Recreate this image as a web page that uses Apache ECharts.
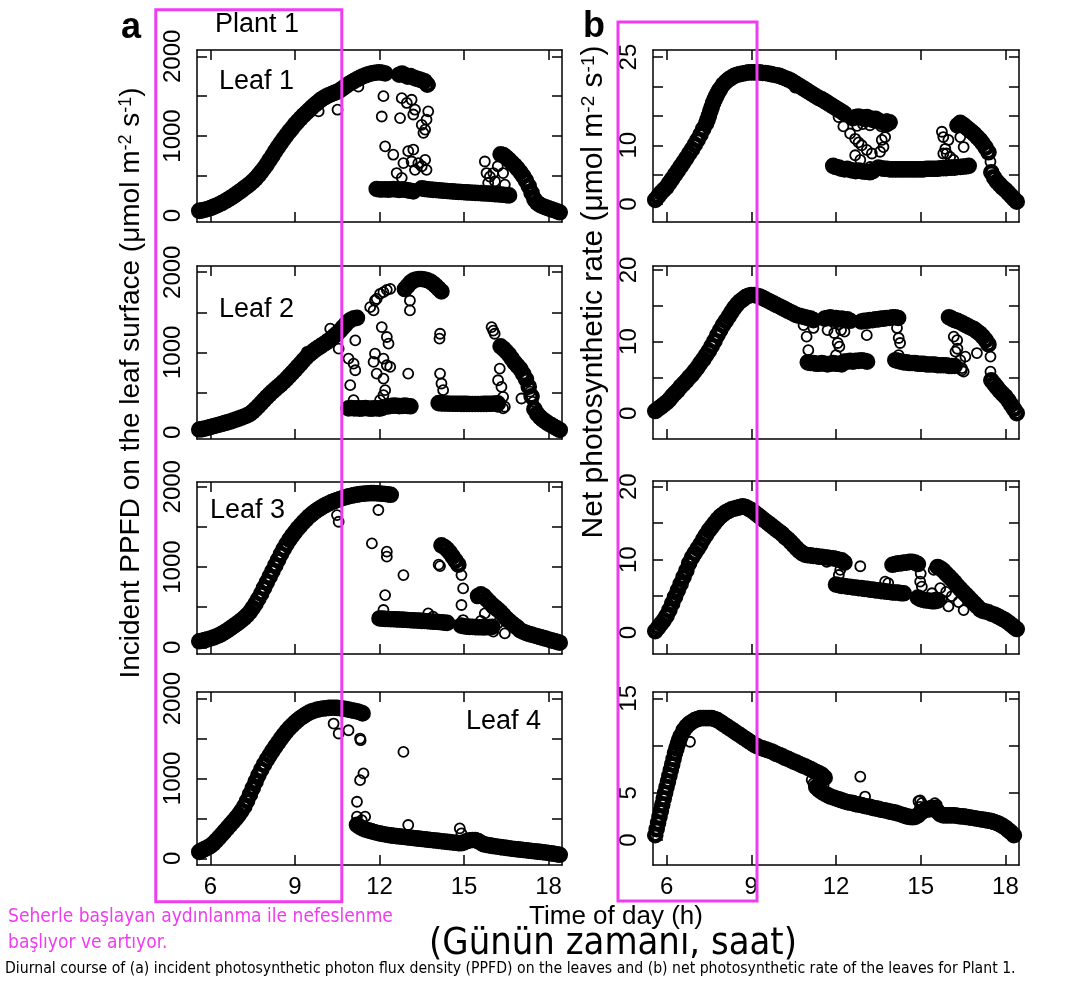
<!DOCTYPE html>
<html><head><meta charset="utf-8">
<script src="https://cdn.jsdelivr.net/npm/echarts@6/dist/echarts.min.js"></script>
<style>html,body{margin:0;padding:0;background:#fff}#c{width:1080px;height:994px}</style>
</head><body><div id="c"></div>
<script>
// ---------------- DATA (hours of day, sampled every STEP hours from each segment start) ----------------
const STEP = 0.1;
const xTicks = [6, 9, 12, 15, 18];
const ppfdTicks = [0, 500, 1000, 1500, 2000];
const ppfdLabels = [0, 1000, 2000];
const b1Ticks = [0, 5, 10, 15, 20, 25];
const b1Labels = [0, 10, 25];
const b23Ticks = [0, 5, 10, 15, 20];
const b23Labels = [0, 10, 20];
const b4Ticks = [0, 5, 10, 15];
const b4Labels = [0, 5, 15];

// Leaf 1 PPFD
const a1_rise = [60,66,74,84,95,110,125,140,158,178,198,220,243,267,292,318,345,372,400,430,465,505,548,595,645,700,755,810,862,915,965,1012,1058,1100,1145,1185,1222,1258,1292,1325,1360,1392,1420,1450,1475,1495,1512,1528,1542,1556,1575,1600,1625,1650,1672,1692,1712,1730,1748,1762,1775,1785,1792,1797,1800,1795,1785];
const a1_low1 = [335,330,328,332,326,330,334,328,322,330,325,318,312,305];
const a1_high = [1770,1785,1765,1745,1752,1735,1722,1712,1700,1688,1645];
const a1_low2 = [342,336,331,328,324,322,318,315,312,310,306,304,300,298,296,294,292,290,288,286,284,282,280,278,276,273,270,268,265,262,258,254];
const a1_fall = [770,760,732,700,665,630,590,545,495,440,370,285,205,160,135,118,105,92,80,68,55,42];
const a1_pts = [[10.51,1330],[9.84,1310],[11.25,1620],[12.14,1500],[12.08,1245],[12.2,870],[12.49,765],[12.73,1225],[12.79,1475],[12.97,1415],[13.14,1455],[13.2,1270],[13.26,1330],[13.5,1140],[13.56,1040],[13.62,1080],[13.67,1205],[13.73,1310],[13.79,1645],[13.02,810],[13.2,830],[13.14,680],[13.38,660],[13.62,700],[13.67,575],[13.5,620],[12.61,535],[12.79,475],[12.85,660],[13.26,575],[13.14,325],[13.2,285],[15.74,680],[15.86,410],[15.8,535],[15.92,490],[16.04,535],[16.1,430],[16.39,535],[16.45,390],[16.2,620]];

// Leaf 1 net photosynthesis
const b1_rise = [0.7,1.3,1.9,2.4,2.9,3.6,4.3,5.0,5.7,6.4,7.1,7.8,8.6,9.3,10.1,10.9,11.8,12.8,13.7,15.0,16.5,17.8,18.8,19.6,20.3,20.8,21.2,21.5,21.8,22.0,22.1,22.2,22.3,22.4,22.4,22.4,22.4,22.4,22.3,22.3,22.2,22.1,22.0,21.9,21.8,21.6,21.4,21.2,21.0,20.7,20.4,20.1,19.8,19.5,19.2,18.9,18.6,18.3,18.0,17.8,17.5,17.2,16.9,16.6,16.3,16.0,15.7,15.4];
const b1_steep = [14.3,15.8,17.2,18.3,19.2];          // 7.45 .. 7.85
const b1_high = [14.6,14.8,14.9,14.7,14.5,14.8,14.6,14.3,14.5,14.2,14.0,13.8,13.6,13.9];
const b1_low1 = [6.5,6.3,6.2,6.0,5.9,6.0,5.8,5.7,5.6,5.7,5.6,5.5,5.5,5.4,5.6];
const b1_low2 = [6.2,6.1,6.0,6.0,5.9,5.9,5.9,5.9,5.9,5.9,5.9,5.9,5.9,5.9,5.9,5.9,5.9,6.0,6.0,6.0,6.0,6.0,6.1,6.1,6.1,6.2,6.2,6.2,6.3,6.3,6.4,6.4,6.5];
const b1_fall = [13.4,13.8,13.5,13.1,12.7,12.3,11.9,11.4,10.9,10.3,9.6,8.8];
const b1_tail = [5.4,4.5,3.8,3.3,2.8,2.4,1.9,1.4,0.9,0.4];
const b1_pts = [[10.55,19.8],[12.09,14.8],[12.26,13.2],[12.5,12.0],[12.68,11.1],[12.8,10.5],[12.91,10.0],[13.09,9.2],[13.27,8.6],[13.56,8.9],[13.62,10.9],[13.68,9.7],[13.74,11.4],[12.68,8.3],[12.86,7.5],[13.21,6.3],[12.75,13.3],[12.95,13.6],[13.2,13.4],[13.4,13.8],[13.6,13.2],[13.8,14.5],[13.0,15.1],[15.75,12.3],[15.8,11.4],[15.87,9.4],[15.92,8.6],[16.04,8.0],[16.16,7.5],[16.4,11.4],[16.52,9.7],[15.8,8.6],[15.98,10.9],[17.47,7.2],[17.52,4.9]];

// Leaf 2 PPFD
const a2_rise = [35,40,48,57,67,77,86,95,105,115,125,135,148,160,172,185,198,212,232,260,292,328,365,402,440,475,508,540,570,600,633,668,705,742,780,820,860,900,938,970,1000,1028,1052,1075,1098,1122,1148,1175,1205,1235,1270,1310,1350,1385,1410,1425,1430];
const a2_low1 = [300,305,298,302,296,300,304,298,295,300,302,297,305];
const a2_low1b = [325,330,335,332,328,330,334,330,326];
const a2_high = [1790,1830,1870,1895,1910,1915,1915,1910,1900,1885,1860,1830,1795,1760];
const a2_low2 = [365,362,360,360,358,358,357,357,356,356,356,355,355,355,355,355,356,356,357,358,360,362];
const a2_fall = [1075,1045,1010,970,920,870,830,790,730,665,570,450,290,230,190,160,135,110,90,70,50,30];
const a2_pts = [[10.25,1295],[10.55,1045],[9.42,1004],[11.14,1149],[10.9,921],[11.08,859],[11.14,776],[10.96,589],[11.08,402],[12.08,1315],[12.26,1191],[12.32,1108],[11.84,983],[11.79,880],[11.9,734],[12.14,921],[12.26,838],[12.38,817],[12.14,672],[12.2,527],[12.14,465],[13.02,734],[12.02,402],[11.67,1564],[11.79,1523],[11.84,1647],[11.9,1668],[12.02,1730],[12.14,1751],[12.26,1780],[12.38,1792],[12.85,1772],[13.08,1647],[13.08,1523],[14.15,1232],[14.13,1170],[14.15,734],[14.2,610],[14.26,527],[14.2,402],[15.98,1315],[16.09,1232],[16.04,1270],[16.27,797],[16.21,651],[16.33,568],[16.39,444],[16.45,320],[17.04,423],[16.2,320],[16.39,300],[17.45,380],[17.35,510]];

// Leaf 2 net photosynthesis
const b2_rise = [0.3,0.6,0.9,1.2,1.5,1.9,2.4,2.8,3.2,3.7,4.1,4.5,5.0,5.4,5.9,6.4,7.0,7.5,8.1,8.7,9.4,10.1,10.9,11.6,12.3,12.9,13.5,14.1,14.7,15.2,15.6,15.9,16.2,16.4,16.5,16.5,16.4,16.3,16.1,15.9,15.7,15.5,15.3,15.1,14.9,14.7,14.5,14.3,14.1,13.9,13.7,13.6,13.5,13.4,13.3,13.2,13.0];
const b2_low1 = [7.1,7.0,7.0,6.9,6.9,7.0,6.9,6.8,6.9,7.0,6.9,6.9,6.8];
const b2_low1b = [7.2,7.2,7.3,7.2,7.3,7.3,7.4,7.3,7.2];
const b2_upA = [13.2,13.3,13.4,13.2,13.3,13.1,13.2,13.0,13.1,12.9];
const b2_upB = [12.8,12.9,12.9,13.0,13.0,13.1,13.1,13.2,13.2,13.3,13.3,13.4,13.4,13.3];
const b2_low2 = [7.4,7.3,7.2,7.1,7.1,7.0,7.0,7.0,6.9,6.9,6.9,6.8,6.8,6.8,6.8,6.7,6.7,6.7,6.7,6.6,6.6,6.6];
const b2_fall = [13.4,13.2,13.0,12.9,12.7,12.5,12.3,12.1,11.9,11.7,11.4,11.1,10.7,10.2,9.6];
const b2_tail = [4.6,4.1,3.6,3.1,2.7,2.3,1.8,1.2,0.6,0.0];
const b2_pts = [[10.85,12.3],[10.96,10.7],[11.02,8.8],[11.2,11.9],[11.7,11.6],[11.94,11.2],[12.06,9.8],[12.12,9.3],[12.0,8.1],[12.18,11.6],[12.3,11.4],[12.1,12.4],[12.86,12.8],[13.09,10.9],[14.16,11.9],[14.22,10.5],[14.27,9.8],[14.22,8.1],[15.99,13.5],[16.11,13.0],[16.17,10.7],[16.29,10.2],[16.23,8.6],[16.4,7.4],[16.46,6.3],[16.58,7.9],[16.52,5.8],[16.99,8.4],[17.47,7.9],[17.47,5.8],[16.3,9.0],[16.45,6.0]];

// Leaf 3 PPFD
const a3_rise = [75,82,90,100,110,122,135,150,168,188,210,235,260,285,310,338,368,400,440,490,545,605,670,740,810,880,950,1020,1090,1160,1225,1285,1340,1390,1435,1480,1520,1560,1595,1630,1660,1688,1712,1735,1755,1775,1792,1808,1822,1835,1848,1860,1870,1880,1888,1895,1902,1908,1912,1915,1918,1920,1920,1918,1915,1912,1910,1905,1900];
const a3_low1 = [360,358,355,352,350,350,348,346,345,343,340,338,336,335,333,330,328,325,322,320,318,315,312,308,305];
const a3_up = [1270,1250,1220,1180,1130,1080,1030];
const a3_low2 = [270,262,258,255,255,252,250,250,248,250,252,255];
const a3_mid = [640,660,640,600,565,530,500,470,440,400,360,330,300,270,245,210,195,180,168,158,148,138,128,118,108,98,88,78,68,58];
const a3_pts = [[10.49,1647],[10.55,1564],[11.96,1710],[11.73,1294],[12.26,1191],[12.26,1129],[12.85,900],[12.2,651],[12.14,465],[13.73,423],[13.9,382],[14.15,1012],[14.1,1030],[14.91,900],[14.97,734],[14.91,527],[14.97,340],[15.45,610],[15.74,423],[16.04,195],[16.45,174],[15.98,490],[16.2,300],[15.3,280],[15.6,330]];

// Leaf 3 net photosynthesis
const b3_rise = [0.2,0.7,1.2,1.7,2.3,3.1,4.0,4.9,5.8,6.7,7.6,8.5,9.5,10.3,10.9,11.5,12.1,12.8,13.4,14.0,14.5,15.0,15.5,15.9,16.2,16.5,16.7,16.9,17.0,17.1,17.2,17.3,17.2,17.0,16.8,16.5,16.2,15.9,15.6,15.3,15.0,14.7,14.4,14.1,13.8,13.5,13.1,12.8,12.4,12.0,11.6,11.2,10.9,10.7,10.6,10.6,10.5,10.5,10.4,10.4,10.3,10.3,10.2,10.2,10.1,10.0,9.9,9.6];
const b3_low1 = [6.6,6.5,6.4,6.4,6.3,6.3,6.2,6.2,6.1,6.1,6.0,6.0,5.9,5.9,5.8,5.8,5.7,5.7,5.6,5.6,5.5,5.5,5.5,5.4,5.4];
const b3_up = [9.3,9.4,9.5,9.5,9.6,9.6,9.7,9.7,9.6,9.4];
const b3_low2 = [4.8,4.6,4.5,4.4,4.4,4.3,4.3,4.4];
const b3_mid = [9.0,8.8,8.5,8.1,7.7,7.3,6.9,6.4,6.0,5.6,5.2,4.8,4.4,4.0,3.6,3.2,3.0,2.9,2.8,2.6,2.5,2.3,2.1,1.9,1.7,1.4,1.1,0.8,0.5];
const b3_pts = [[11.67,9.7],[12.86,9.1],[12.15,8.6],[12.1,7.9],[13.74,7.0],[13.85,6.8],[15.04,6.3],[15.0,8.1],[15.46,8.6],[15.69,6.1],[15.75,4.5],[15.98,3.6],[16.34,4.2],[16.52,3.1],[15.4,5.4],[15.5,4.8],[16.1,5.0],[15.9,5.6],[14.98,7.0]];

// Leaf 4 PPFD
const a4_rise = [80,100,118,135,155,185,220,258,298,338,378,418,458,500,545,595,650,720,800,880,960,1040,1110,1175,1235,1290,1345,1400,1450,1500,1545,1590,1630,1665,1700,1730,1758,1782,1805,1825,1840,1852,1862,1870,1876,1880,1884,1886,1886,1884,1880,1875,1870,1862,1855,1848,1840,1830,1815];
const a4_low = [420,395,375,360,350,340,330,320,312,305,298,292,287,282,278,274,270,266,262,258,254,250,246,242,238,234,230,226,222,218,214,210,206,202,198,194,190,188,200,215,225,230,228,215,195,175,168,162,156,150,145,140,135,130,125,120,116,112,108,104,100,96,92,88,84,80,76,72,67,62,56,50,44];
const a4_pts = [[6.77,417],[10.37,1688],[10.55,1563],[10.9,1604],[11.31,1500],[11.33,1479],[11.43,1063],[11.31,979],[11.2,708],[11.2,521],[11.49,521],[11.37,479],[12.85,1333],[13.02,417],[14.85,375],[14.91,312]];

// Leaf 4 net photosynthesis
const b4_riseFast = [0.5,1.15,1.8,2.45,3.1,3.75,4.4,5.0,5.6,6.2,6.8,7.4,8.0,8.6,9.2,9.7,10.2,10.6];   // 5.60 .. 6.45 every 0.05 h
const b4_rise = [11.0,11.6,12.0,12.3,12.5,12.7,12.8,12.9,12.9,12.9,12.9,12.9,12.8,12.7,12.5,12.3,12.1,11.9,11.7,11.5,11.3,11.1,10.9,10.7,10.5,10.3,10.1,9.95,9.8,9.7,9.6,9.5,9.4,9.25,9.1,9.0,8.85,8.7,8.6,8.45,8.3,8.2,8.05,7.9,7.8,7.65,7.5,7.35,7.2,7.05,6.9,6.6];
const b4_low = [5.6,5.3,5.1,4.9,4.75,4.6,4.5,4.4,4.3,4.2,4.1,4.0,3.95,3.9,3.8,3.75,3.7,3.6,3.55,3.5,3.4,3.35,3.3,3.2,3.15,3.1,3.0,2.95,2.9,2.8,2.7,2.6,2.5,2.45,2.4,2.45,2.6,2.9,3.1,3.2,3.3,3.4,3.3,3.0,2.7,2.6,2.6,2.6,2.6,2.6,2.55,2.5,2.5,2.45,2.4,2.35,2.3,2.25,2.2,2.15,2.1,2.05,2.0,1.9,1.8,1.65,1.5,1.3,1.05,0.8,0.5];
const b4_pts = [[6.83,10.4],[6.12,7.1],[11.14,6.35],[11.2,6.0],[11.56,5.8],[11.5,6.1],[12.86,6.7],[13.03,4.6],[14.92,4.1],[14.98,3.5],[14.98,4.2],[15.04,3.9],[15.1,3.2],[15.45,3.5],[15.57,3.7],[15.33,3.0],[15.5,3.9]];

// ---------------- CHART ----------------
const FONT = '"Liberation Sans", Arial, Helvetica, sans-serif';
const NARROW = '"Liberation Sans Narrow", "DejaVu Sans Condensed", "Liberation Sans", sans-serif';
const INK = '#000';
const PINK = '#f03cf0';
const X_MIN = 5.52, X_MAX = 18.48;

function seg(t0, vals, step) { step = step || STEP; return vals.map((v, i) => [Math.round((t0 + i * step) * 1000) / 1000, v]); }

const panels = [
  {grid:{left:197,top:50,width:365,height:172}, yMin:-80, yMax:2080, yTicks:ppfdTicks, yLabels:ppfdLabels, bottom:false,
   dense:[].concat(seg(5.6,a1_rise), seg(11.9,a1_low1), seg(12.7,a1_high), seg(13.5,a1_low2), seg(16.3,a1_fall)), pts:a1_pts},
  {grid:{left:653,top:50,width:366,height:172}, yMin:-3.05, yMax:26.2, yTicks:b1Ticks, yLabels:b1Labels, bottom:false,
   dense:[].concat(seg(5.6,b1_rise), seg(7.45,b1_steep), seg(12.6,b1_high), seg(11.9,b1_low1), seg(13.5,b1_low2), seg(16.3,b1_fall), seg(17.5,b1_tail)), pts:b1_pts},
  {grid:{left:197,top:266,width:365,height:173}, yMin:-83, yMax:2078, yTicks:ppfdTicks, yLabels:ppfdLabels, bottom:false,
   dense:[].concat(seg(5.6,a2_rise), seg(10.9,a2_low1), seg(12.3,a2_low1b), seg(12.9,a2_high), seg(14.1,a2_low2), seg(16.3,a2_fall)), pts:a2_pts},
  {grid:{left:653,top:266,width:366,height:173}, yMin:-3.6, yMax:20.55, yTicks:b23Ticks, yLabels:b23Labels, bottom:false,
   dense:[].concat(seg(5.6,b2_rise), seg(11.0,b2_low1), seg(12.3,b2_low1b), seg(11.6,b2_upA), seg(12.9,b2_upB), seg(14.1,b2_low2), seg(16.0,b2_fall), seg(17.5,b2_tail)), pts:b2_pts},
  {grid:{left:197,top:482,width:365,height:172}, yMin:-83, yMax:2059, yTicks:ppfdTicks, yLabels:ppfdLabels, bottom:false,
   dense:[].concat(seg(5.6,a3_rise), seg(12.0,a3_low1), seg(14.2,a3_up), seg(14.9,a3_low2), seg(15.5,a3_mid)), pts:a3_pts},
  {grid:{left:653,top:481,width:366,height:173}, yMin:-2.92, yMax:20.78, yTicks:b23Ticks, yLabels:b23Labels, bottom:false,
   dense:[].concat(seg(5.6,b3_rise), seg(12.0,b3_low1), seg(14.0,b3_up), seg(14.9,b3_low2), seg(15.6,b3_mid)), pts:b3_pts},
  {grid:{left:197,top:692,width:365,height:173}, yMin:-84, yMax:2083, yTicks:ppfdTicks, yLabels:ppfdLabels, bottom:true,
   dense:[].concat(seg(5.6,a4_rise), seg(11.2,a4_low)), pts:a4_pts},
  {grid:{left:653,top:692,width:366,height:173}, yMin:-2.65, yMax:15.67, yTicks:b4Ticks, yLabels:b4Labels, bottom:true,
   dense:[].concat(seg(5.6,b4_riseFast,0.05), seg(6.5,b4_rise), seg(11.3,b4_low)), pts:b4_pts}
];

const grid = [], xAxis = [], yAxis = [], series = [];
const plain = v => String(v);
panels.forEach((p, g) => {
  grid.push(Object.assign({containLabel:false}, p.grid));
  const line = {show:true, onZero:false, lineStyle:{color:INK, width:1.5}};
  const tick = {show:true, inside:true, length:10, lineStyle:{color:INK, width:1.5}};
  const lab = {fontSize:24, color:INK, fontFamily:FONT, formatter:plain};
  xAxis.push({type:'value', gridIndex:g, position:'bottom', min:X_MIN, max:X_MAX, axisLine:line,
    axisTick:Object.assign({customValues:xTicks}, tick), axisLabel:Object.assign({show:p.bottom, margin:10, customValues:xTicks}, lab), splitLine:{show:false}});
  xAxis.push({type:'value', gridIndex:g, position:'top', min:X_MIN, max:X_MAX, axisLine:line,
    axisTick:Object.assign({customValues:xTicks}, tick), axisLabel:{show:false}, splitLine:{show:false}});
  yAxis.push({type:'value', gridIndex:g, position:'left', min:p.yMin, max:p.yMax, axisLine:line,
    axisTick:Object.assign({customValues:p.yTicks}, tick), axisLabel:Object.assign({rotate:90, margin:12, customValues:p.yLabels}, lab), splitLine:{show:false}});
  yAxis.push({type:'value', gridIndex:g, position:'right', min:p.yMin, max:p.yMax, axisLine:line,
    axisTick:Object.assign({customValues:p.yTicks}, tick), axisLabel:{show:false}, splitLine:{show:false}});
  // dense measurement runs: heavy open circles that merge into a solid band
  series.push({type:'scatter', xAxisIndex:2*g, yAxisIndex:2*g, data:p.dense, symbol:'circle', symbolSize:12,
    itemStyle:{color:'rgba(0,0,0,0)', borderColor:INK, borderWidth:4.6, opacity:1}, silent:true, clip:true, large:false});
  // isolated measurements: thin open circles
  series.push({type:'scatter', xAxisIndex:2*g, yAxisIndex:2*g, data:p.pts, symbol:'circle', symbolSize:10,
    itemStyle:{color:'rgba(0,0,0,0)', borderColor:INK, borderWidth:1.8, opacity:1}, silent:true, clip:true, large:false});
});

function fitSize(text, family, width) {
  const ctx = document.createElement('canvas').getContext('2d');
  ctx.font = '100px ' + family;
  return 100 * width / ctx.measureText(text).width;
}
const captionText = 'Diurnal course of (a) incident photosynthetic photon flux density (PPFD) on the leaves and (b) net photosynthetic rate of the leaves for Plant 1.';
const noteLine1 = 'Seherle başlayan aydınlanma ile nefeslenme';
const noteLine2 = 'başlıyor ve artıyor.';
const trText = '(Günün zamanı, saat)';
const capSize = fitSize(captionText, NARROW, 1012);
const noteSize = fitSize(noteLine1, NARROW, 385);
const trSize = fitSize(trText, NARROW, 368);

function txt(x, y, text, size, opts) {
  opts = opts || {};
  return {type:'text', x:x, y:y, z:100, rotation:opts.rot || 0, silent:true,
    style:{text:text, fill:opts.fill || INK, fontSize:size, fontFamily:opts.family || FONT, fontWeight:opts.weight || 'normal',
      align:opts.align || 'left', textAlign:opts.align || 'left', verticalAlign:'middle', textVerticalAlign:'middle', rich:opts.rich}};
}
function supRich(size) {
  return {sup:{fontSize:size, fontFamily:FONT, fill:INK, verticalAlign:'top'}};
}

const graphic = [
  {type:'rect', z:100, silent:true, shape:{x:155.8, y:9.7, width:186, height:892}, style:{fill:'none', stroke:PINK, lineWidth:3}},
  {type:'rect', z:100, silent:true, shape:{x:618, y:22, width:139, height:879}, style:{fill:'none', stroke:PINK, lineWidth:3}},
  txt(131, 28, 'a', 36, {weight:'bold', align:'center'}),
  txt(594, 27, 'b', 36, {weight:'bold', align:'center'}),
  txt(215, 25, 'Plant 1', 27),
  txt(219, 82, 'Leaf 1', 27),
  txt(219, 310, 'Leaf 2', 27),
  txt(210, 511, 'Leaf 3', 27),
  txt(466, 722, 'Leaf 4', 27),
  txt(131, 383, 'Incident PPFD on the leaf surface (μmol m{sup|-2} s{sup|-1})', 28, {rot:Math.PI/2, align:'center', rich:supRich(18)}),
  txt(594, 292, 'Net photosynthetic rate (μmol m{sup|-2} s{sup|-1})', 30, {rot:Math.PI/2, align:'center', rich:supRich(19)}),
  txt(616, 917, 'Time of day (h)', 26, {align:'center'}),
  txt(613, 944, trText, trSize, {align:'center', family:NARROW}),
  txt(5, 969, captionText, capSize, {family:NARROW}),
  txt(8, 917, noteLine1, noteSize, {family:NARROW, fill:PINK}),
  txt(8, 943, noteLine2, noteSize, {family:NARROW, fill:PINK})
];

const chart = echarts.init(document.getElementById('c'), null, {renderer:'canvas'});
chart.setOption({animation:false, backgroundColor:'#fff', grid:grid, xAxis:xAxis, yAxis:yAxis, series:series, graphic:graphic});
</script>
</body></html>
